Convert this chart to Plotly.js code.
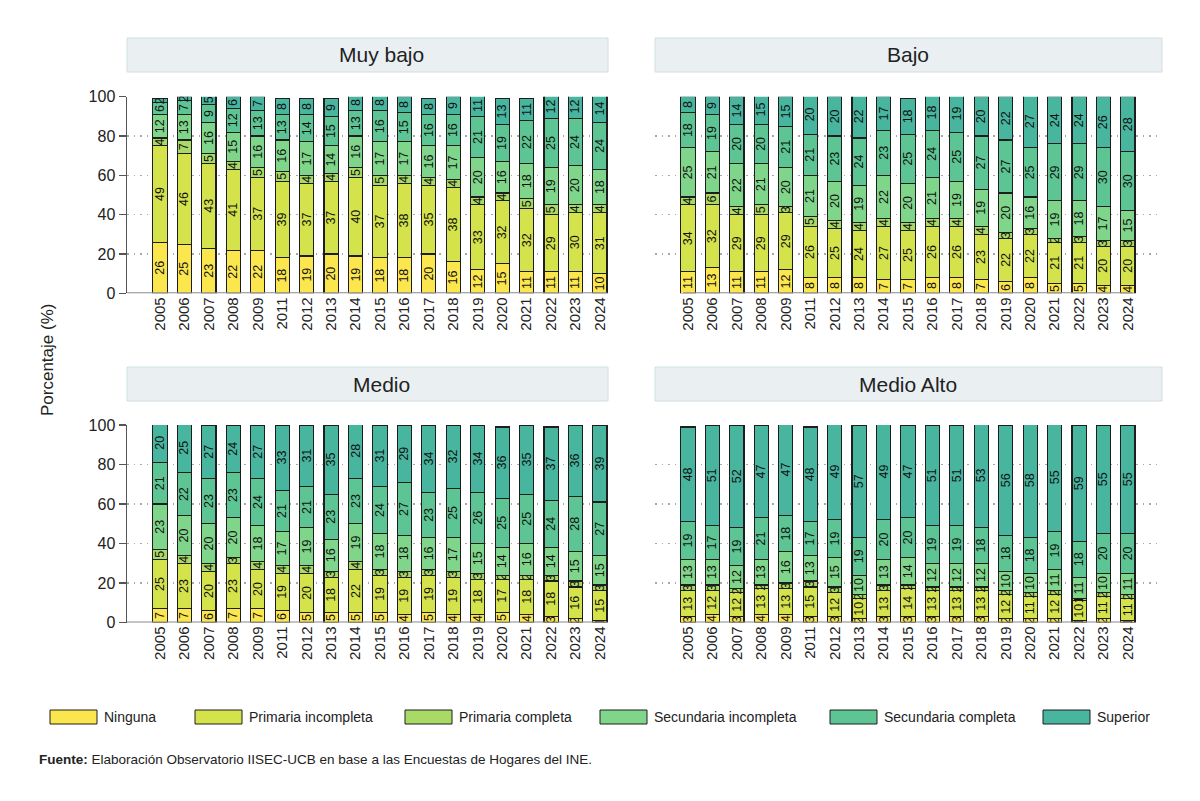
<!DOCTYPE html>
<html>
<head>
<meta charset="utf-8">
<script src="https://cdn.plot.ly/plotly-3.0.1.min.js"></script>
<style>
  html, body { margin: 0; padding: 0; background: #ffffff; }
  #chart { width: 1200px; height: 801px; }
</style>
</head>
<body>
<div id="chart"></div>
<script>
// Survey years (2010 has no household survey)
const years = ['2005','2006','2007','2008','2009','2011','2012','2013','2014','2015',
               '2016','2017','2018','2019','2020','2021','2022','2023','2024'];

// Education levels, bottom to top of each stack
const categories = ['Ninguna', 'Primaria incompleta', 'Primaria completa',
                    'Secundaria incompleta', 'Secundaria completa', 'Superior'];
const colors = ['#fbe64e', '#d4e34c', '#a9da66', '#7fd58a', '#5cc593', '#48b59f'];

const panelTitles = ['Muy bajo', 'Bajo', 'Medio', 'Medio Alto'];

// Muy bajo (%)
const muyBajoNinguna    = [26,25,23,22,22,18,19,20,19,18,18,20,16,12,15,11,11,11,10];
const muyBajoPrimInc    = [49,46,43,41,37,39,37,37,40,37,38,35,38,33,32,32,29,30,31];
const muyBajoPrimCom    = [4,7,5,4,5,5,4,4,5,5,4,4,4,4,4,5,5,4,4];
const muyBajoSecInc     = [12,13,16,15,16,16,17,14,16,17,17,16,17,20,16,18,19,20,18];
const muyBajoSecCom     = [6,7,9,12,13,13,14,15,13,16,15,16,16,21,19,22,25,24,24];
const muyBajoSuperior   = [2,2,5,6,7,8,8,9,8,8,8,8,9,11,13,11,12,12,14];

// Bajo (%)
const bajoNinguna       = [11,13,11,11,12,8,8,8,7,7,8,8,7,6,8,5,5,4,4];
const bajoPrimInc       = [34,32,29,29,29,26,25,24,27,25,26,26,23,22,22,21,21,20,20];
const bajoPrimCom       = [4,6,4,5,3,5,4,4,4,4,4,4,4,3,3,2,3,3,3];
const bajoSecInc        = [25,21,22,21,20,21,20,19,22,20,21,19,19,20,16,19,18,17,15];
const bajoSecCom        = [18,19,20,20,21,21,23,24,23,25,24,25,27,27,25,29,29,30,30];
const bajoSuperior      = [8,9,14,15,15,20,20,22,17,18,18,19,20,22,27,24,24,26,28];

// Medio (%)
const medioNinguna      = [7,7,6,7,7,6,5,5,5,5,4,5,4,4,5,4,3,2,1];
const medioPrimInc      = [25,23,20,23,20,19,20,18,22,19,19,19,19,18,17,18,18,16,15];
const medioPrimCom      = [5,4,4,3,4,4,4,3,4,3,3,3,3,3,2,2,3,3,3];
const medioSecInc       = [23,20,20,20,18,17,19,16,19,18,18,16,17,15,14,16,14,15,15];
const medioSecCom       = [21,22,23,23,24,21,21,23,23,24,27,23,25,26,25,25,24,28,27];
const medioSuperior     = [20,25,27,24,27,33,31,35,28,31,29,34,32,34,36,35,37,36,39];

// Medio Alto (%)
const medioAltoNinguna  = [3,4,3,4,4,3,3,2,3,3,3,3,3,2,2,2,1,2,1];
const medioAltoPrimInc  = [13,12,12,13,13,15,12,10,13,14,13,13,13,12,11,12,10,11,11];
const medioAltoPrimCom  = [3,3,2,2,3,3,3,2,3,2,2,2,2,2,2,2,1,2,2];
const medioAltoSecInc   = [13,13,12,13,16,13,15,10,13,14,12,12,12,10,10,11,11,10,11];
const medioAltoSecCom   = [19,17,19,21,18,17,19,19,20,20,19,19,18,18,18,19,18,20,20];
const medioAltoSuperior = [48,51,52,47,47,48,49,57,49,47,51,51,53,56,58,55,59,55,55];

const panels = [
  [muyBajoNinguna, muyBajoPrimInc, muyBajoPrimCom, muyBajoSecInc, muyBajoSecCom, muyBajoSuperior],
  [bajoNinguna, bajoPrimInc, bajoPrimCom, bajoSecInc, bajoSecCom, bajoSuperior],
  [medioNinguna, medioPrimInc, medioPrimCom, medioSecInc, medioSecCom, medioSuperior],
  [medioAltoNinguna, medioAltoPrimInc, medioAltoPrimCom, medioAltoSecInc, medioAltoSecCom, medioAltoSuperior]
];

const W = 1200, H = 801;
const px = v => v / W;          // pixel -> paper x
const py = v => 1 - v / H;      // pixel -> paper y
const FONT = 'Liberation Sans, Arial, sans-serif';

// Panel geometry in pixels: [left, right, top(100%), bottom(0%)]
const boxes = [
  [127, 608, 96.7, 293.3],
  [655, 1162, 96.7, 293.3],
  [127, 608, 425, 622.5],
  [655, 1162, 425, 622.5]
];
const titleCenters = [381, 908, 381, 908];
const unit = 24.44;             // pixels per category step
const firstOffset = 33;         // pixels from panel edge to first bar centre

const traces = [];
panels.forEach((series, p) => {
  const sfx = p === 0 ? '' : String(p + 1);
  series.forEach((vals, c) => {
    traces.push({
      type: 'bar',
      x: years,
      y: vals,
      text: vals.map(String),
      name: categories[c],
      xaxis: 'x' + sfx,
      yaxis: 'y' + sfx,
      marker: { color: colors[c], line: { color: '#1e1e1e', width: 1.1 } },
      textposition: 'inside',
      insidetextanchor: 'middle',
      textangle: -90,
      textfont: { family: FONT, size: 12.5, color: '#111' },
      showlegend: false,
      hovertemplate: categories[c] + ' %{x}: %{y}%<extra></extra>'
    });
  });
});

const layout = {
  width: W, height: H,
  margin: { l: 0, r: 0, t: 0, b: 0 },
  paper_bgcolor: '#ffffff',
  plot_bgcolor: '#ffffff',
  barmode: 'stack',
  bargap: 0.42,
  font: { family: FONT, color: '#222' },
  uniformtext: { mode: 'show', minsize: 12.5 },
  shapes: [],
  annotations: []
};

boxes.forEach((b, p) => {
  const sfx = p === 0 ? '' : String(p + 1);
  const r0 = -firstOffset / unit;
  const r1 = r0 + (b[1] - b[0]) / unit;
  const isLeft = (p % 2 === 0);
  layout['xaxis' + sfx] = {
    domain: [px(b[0]), px(b[1])],
    anchor: 'y' + sfx,
    type: 'category',
    categoryorder: 'array',
    categoryarray: years,
    range: [r0, r1],
    tickangle: -90,
    ticks: '',
    showline: false,
    showgrid: false,
    zeroline: false,
    tickfont: { family: FONT, size: 15, color: '#222' },
    fixedrange: true
  };
  layout['yaxis' + sfx] = {
    domain: [py(b[3]), py(b[2])],
    anchor: 'x' + sfx,
    range: [0, 100],
    tickvals: [0, 20, 40, 60, 80, 100],
    showticklabels: isLeft,
    ticks: isLeft ? 'outside' : '',
    ticklen: 7,
    tickwidth: 1.5,
    tickcolor: '#555',
    showline: isLeft,
    linecolor: '#555',
    linewidth: 1.5,
    showgrid: true,
    gridcolor: '#a8a8a8',
    gridwidth: 1.5,
    griddash: '1.5px,5px',
    zeroline: false,
    tickfont: { family: FONT, size: 16, color: '#222' },
    fixedrange: true
  };

  // baseline of the category axis
  layout.shapes.push({
    type: 'line', xref: 'x' + sfx, yref: 'y' + sfx,
    x0: isLeft ? r0 : -0.2, x1: isLeft ? 18.3 : 18.2, y0: 0, y1: 0,
    line: { color: '#8a8a8a', width: 2 }
  });

  // panel header strip
  const stripTop = p < 2 ? 38 : 367;
  const stripBot = p < 2 ? 72 : 401;
  layout.shapes.push({
    type: 'rect', xref: 'paper', yref: 'paper',
    x0: px(b[0]), x1: px(b[1]), y0: py(stripBot), y1: py(stripTop),
    fillcolor: '#eaf0f2', line: { color: '#d2dde1', width: 1 }, layer: 'below'
  });
  layout.annotations.push({
    xref: 'paper', yref: 'paper',
    x: px(titleCenters[p]), y: py((stripTop + stripBot) / 2),
    xanchor: 'center', yanchor: 'middle', showarrow: false,
    text: panelTitles[p],
    font: { family: FONT, size: 21, color: '#222' }
  });
});

// shared y title
layout.annotations.push({
  xref: 'paper', yref: 'paper', x: px(47), y: py(360),
  xanchor: 'center', yanchor: 'middle', showarrow: false, textangle: -90,
  text: 'Porcentaje (%)',
  font: { family: FONT, size: 17, color: '#222' }
});

// legend: wide swatches with labels
const legendX = [50, 195, 405, 600, 830, 1043];
const swW = 47, swTop = 710, swBot = 724;
categories.forEach((name, i) => {
  layout.shapes.push({
    type: 'rect', xref: 'paper', yref: 'paper',
    x0: px(legendX[i]), x1: px(legendX[i] + swW), y0: py(swBot), y1: py(swTop),
    fillcolor: colors[i], line: { color: '#1e1e1e', width: 1 }
  });
  layout.annotations.push({
    xref: 'paper', yref: 'paper',
    x: px(legendX[i] + swW + 5), y: py((swTop + swBot) / 2),
    xanchor: 'left', yanchor: 'middle', showarrow: false,
    text: name,
    font: { family: FONT, size: 14, color: '#222' }
  });
});

// source note
layout.annotations.push({
  xref: 'paper', yref: 'paper', x: px(37), y: py(759),
  xanchor: 'left', yanchor: 'middle', showarrow: false,
  text: '<b>Fuente:</b> Elaboración Observatorio IISEC-UCB en base a las Encuestas de Hogares del INE.',
  font: { family: FONT, size: 13.5, color: '#222' }
});

Plotly.newPlot('chart', traces, layout, { displayModeBar: false, staticPlot: true });
</script>
</body>
</html>
